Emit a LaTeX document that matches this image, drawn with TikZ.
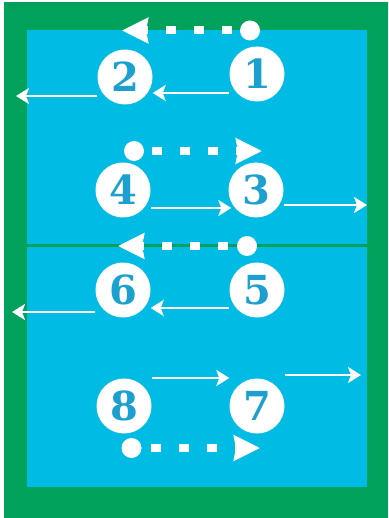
\documentclass[tikz,border=0pt]{standalone}
\usepackage{fontspec}
\setmainfont{DejaVu Serif}
\usetikzlibrary{arrows.meta}
\definecolor{fieldgreen}{HTML}{00A15B}
\definecolor{courtblue}{HTML}{00BCE4}
\definecolor{digitblue}{HTML}{1BA0D0}
\begin{document}
\begin{tikzpicture}[x=1pt,y=-1pt,
  player/.style={circle,fill=white,minimum size=55pt,inner sep=0pt,text=digitblue,font=\fontsize{40}{40}\selectfont\bfseries},
  ball/.style={circle,fill=white,minimum size=20pt,inner sep=0pt},
  run/.style={draw=white,line width=2.5pt,-{Stealth[length=13pt,width=16pt,inset=3pt]}},
  pass/.style={draw=white,line width=8pt,dash pattern=on 10pt off 18pt,-{Stealth[length=26pt,width=25pt,inset=2pt]}},
]
\useasboundingbox (0,0) rectangle (388,518);
\fill[white] (0,0) rectangle (388,518);
\fill[fieldgreen] (4,2) rectangle (388,518);
\fill[courtblue] (27,30) rectangle (367,487);
\draw[fieldgreen,line width=3pt] (27,245) -- (367,245);

% players
\node[player] (n1) at (257,74) {1};
\node[player] (n2) at (125,77) {2};
\node[player] (n4) at (123,190) {4};
\node[player] (n3) at (256,190) {3};
\node[player] (n6) at (123,290) {6};
\node[player] (n5) at (257,290) {5};
\node[player] (n8) at (124,406) {8};
\node[player] (n7) at (257,406) {7};

% balls
\node[ball] (d1) at (250,30.5) {};
\node[ball] (d4) at (134,151) {};
\node[ball] (d5) at (247,246) {};
\node[ball] (d8) at (131.5,448) {};

% free ends
\coordinate (t1) at (122,30.5);
\coordinate (t4) at (262,151);
\coordinate (t5) at (118,246);
\coordinate (t8) at (260,448);
\coordinate (e2) at (16,96);
\coordinate (e3) at (367,205);
\coordinate (e6) at (12,312);
\coordinate (e7) at (361,375);

% passes
\draw[pass,shorten <=8pt] (d1.west) -- (t1);
\draw[pass,shorten <=8pt] (d4.east) -- (t4);
\draw[pass,shorten <=9pt] (d5.west) -- (t5);
\draw[pass,shorten <=9.5pt] (d8.east) -- (t8);

% runs
\coordinate (s1) at ([yshift=-19pt]n1.west);
\coordinate (s2) at ([yshift=-19pt]n2.west);
\coordinate (s4) at ([yshift=-18pt]n4.east);
\coordinate (s3) at ([yshift=-15pt]n3.east);
\coordinate (s5) at ([yshift=-18pt]n5.west);
\coordinate (s6) at ([yshift=-22pt]n6.west);
\coordinate (s8) at ([yshift=28pt]n8.east);
\coordinate (s7) at ([yshift=31pt]n7.east);
\draw[run] (s1) -- (s1 -| n2.east);
\draw[run] (s2) -- (e2);
\draw[run,shorten >=-3pt] (s4) -- (s4 -| n3.west);
\draw[run] (s3) -- (e3);
\draw[run] (s5) -- (s5 -| n6.east);
\draw[run] (s6) -- (e6);
\draw[run] (s8) -- (s8 -| n7.west);
\draw[run] (s7) -- (e7);
\end{tikzpicture}
\end{document}
